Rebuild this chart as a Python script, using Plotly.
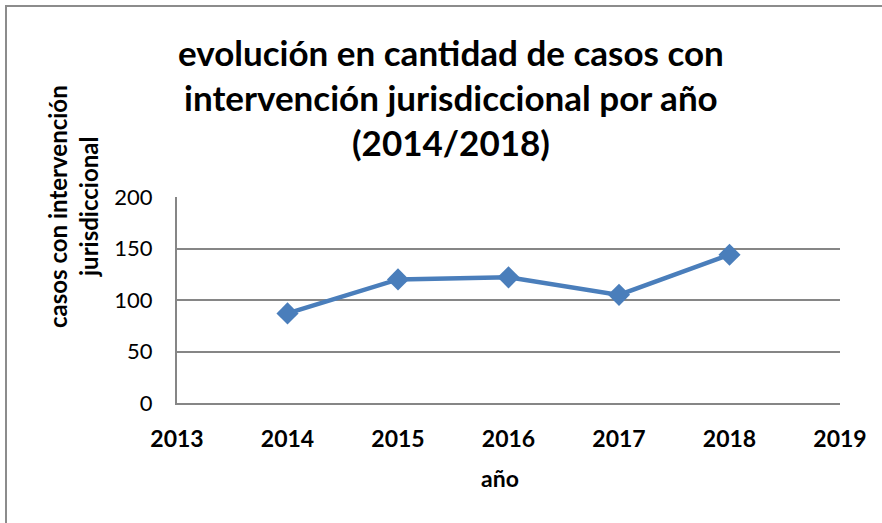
import plotly.graph_objects as go

years = [2014, 2015, 2016, 2017, 2018]
casos = [87, 120, 122, 105, 144]
x_ticks = [2013, 2014, 2015, 2016, 2017, 2018, 2019]
y_ticks = [0, 50, 100, 150, 200]
title_lines = ["evolución en cantidad de casos con",
               "intervención jurisdiccional por año",
               "(2014/2018)"]
y_title_lines = ["casos con intervención", "jurisdiccional"]
x_title = "año"

FONT = "Lato, Carlito, Calibri, sans-serif"
L, R, T, B = 177, 840, 197, 403
W, H = 882, 523
pw, ph = R - L, B - T

def px(x):
    return (x - L) / pw

def py(y):
    return (B - y) / ph

fig = go.Figure()
fig.add_trace(go.Scatter(
    x=years, y=casos, mode="lines+markers",
    line=dict(color="#4A7EBB", width=4.5),
    marker=dict(symbol="diamond", size=17, color="#4A7EBB"),
    showlegend=False, hoverinfo="x+y"))

annotations = []
for txt, yc in zip(title_lines, [52, 97, 142]):
    annotations.append(dict(text=f"<b>{txt}</b>", x=px(451), y=py(yc), xref="paper", yref="paper",
                            xanchor="center", yanchor="middle", showarrow=False,
                            font=dict(family=FONT, size=35, color="#000000")))
for txt, xc in zip(y_title_lines, [57, 88]):
    annotations.append(dict(text=f"<b>{txt}</b>", x=px(xc), y=py(207), xref="paper", yref="paper",
                            xanchor="center", yanchor="middle", textangle=-90, showarrow=False,
                            font=dict(family=FONT, size=24, color="#000000")))
annotations.append(dict(text=f"<b>{x_title}</b>", x=px(500), y=py(478), xref="paper", yref="paper",
                        xanchor="center", yanchor="middle", showarrow=False,
                        font=dict(family=FONT, size=23, color="#000000")))

fig.update_layout(
    width=W, height=H,
    margin=dict(l=L, r=W - R, t=T, b=H - B),
    paper_bgcolor="white", plot_bgcolor="white",
    font=dict(family=FONT, color="#000000"),
    annotations=annotations,
    shapes=[dict(type="rect", xref="paper", yref="paper",
                 x0=px(6), x1=px(900), y0=py(540), y1=py(6),
                 line=dict(color="#8C8C8C", width=2), fillcolor="rgba(0,0,0,0)", layer="below")],
    xaxis=dict(range=[2013, 2019], tickvals=x_ticks, ticktext=[str(v) for v in x_ticks],
               showgrid=False, zeroline=False, showline=True, linecolor="#868686", linewidth=2,
               ticks="", ticklabelstandoff=14,
               tickfont=dict(family=FONT, size=23, color="#000000", weight="bold")),
    yaxis=dict(range=[0, 200], tickvals=y_ticks, showgrid=True, gridcolor="#868686", gridwidth=1.5,
               zeroline=False, showline=True, linecolor="#868686", linewidth=2,
               ticks="", ticklabelstandoff=18,
               tickfont=dict(family=FONT, size=22, color="#000000")),
)

fig.write_html("out.html", config={"displayModeBar": False},
               post_script="document.body.style.margin='0';document.body.style.overflow='hidden';")
